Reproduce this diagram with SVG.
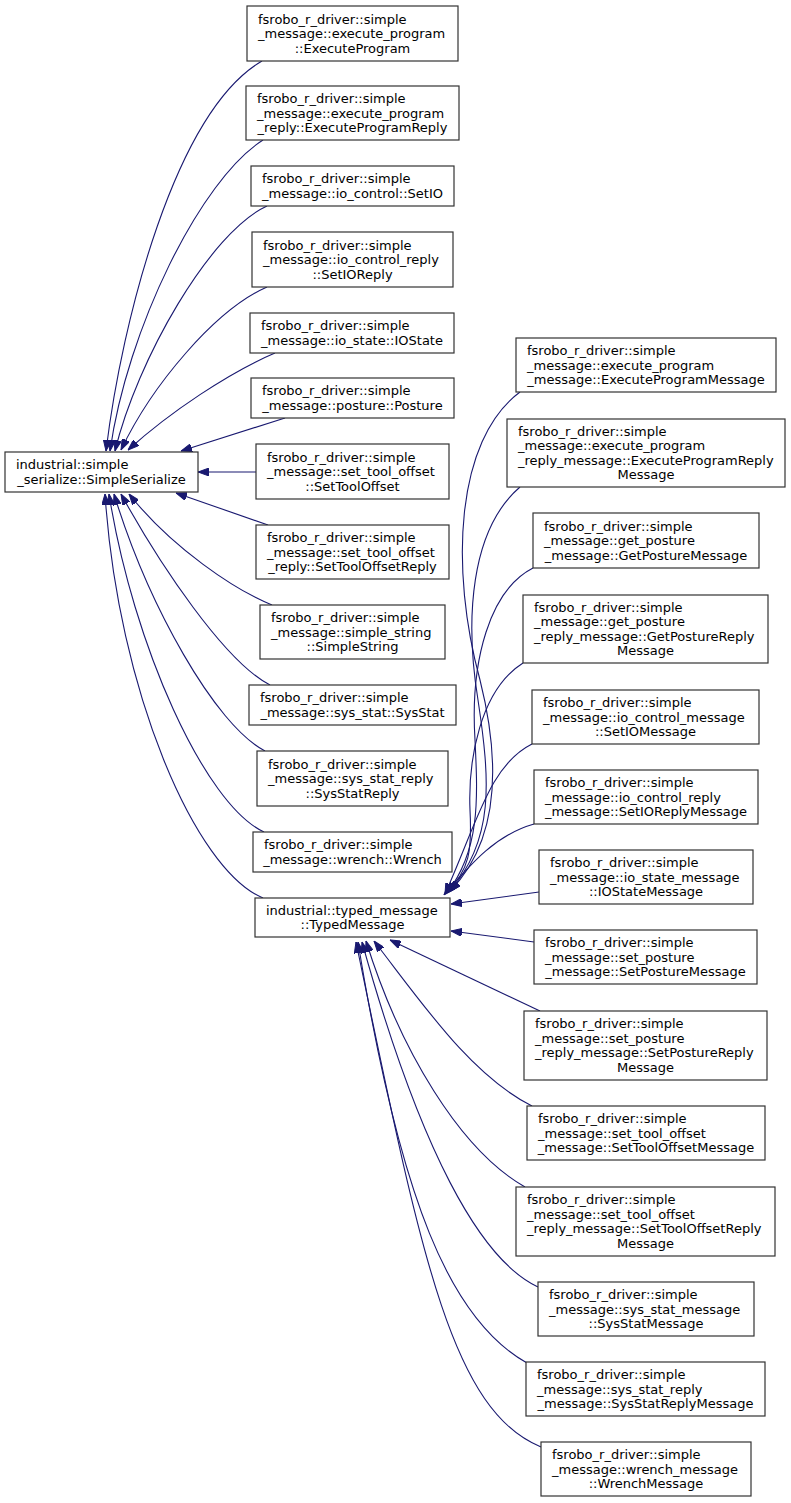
<svg xmlns="http://www.w3.org/2000/svg" width="791" height="1503" viewBox="0 0 791 1503">
<style>
rect.n{fill:#ffffff;stroke:#333333;stroke-width:1.2}
text{font-family:"DejaVu Sans","Liberation Sans",sans-serif;font-size:13px;fill:#000000}
.m{text-anchor:middle}
.e{fill:none;stroke:#191970;stroke-width:1.1}
</style>
<defs>
<marker id="ah" markerWidth="11" markerHeight="8" refX="11" refY="4" orient="auto" markerUnits="userSpaceOnUse"><path d="M0,0 L11,4 L0,8 z" fill="#191970" stroke="#191970" stroke-width="1"/></marker>
</defs>
<rect width="791" height="1503" fill="#ffffff"/>
<g id="edges">
<path class="e" marker-end="url(#ah)" d="M262,61 C175,112 122,320 106,451"/>
<path class="e" marker-end="url(#ah)" d="M263,140 C200,180 127,330 110,451"/>
<path class="e" marker-end="url(#ah)" d="M267,206 C210,232 137,360 115,451"/>
<path class="e" marker-end="url(#ah)" d="M267,287 C215,310 152,385 121,450"/>
<path class="e" marker-end="url(#ah)" d="M275,353 C230,372 170,412 128,450"/>
<path class="e" marker-end="url(#ah)" d="M285,418 L181,451"/>
<path class="e" marker-end="url(#ah)" d="M256,472 L198,472"/>
<path class="e" marker-end="url(#ah)" d="M268,525 L176,493"/>
<path class="e" marker-end="url(#ah)" d="M272,605 C235,590 172,548 129,494"/>
<path class="e" marker-end="url(#ah)" d="M270,685 C225,662 160,565 121,494"/>
<path class="e" marker-end="url(#ah)" d="M265,751 C215,725 148,605 114,494"/>
<path class="e" marker-end="url(#ah)" d="M264,832 C205,805 133,645 109,494"/>
<path class="e" marker-end="url(#ah)" d="M263,898 C195,870 118,690 105,494"/>
<path class="e" marker-end="url(#ah)" d="M520,392 C455,440 450,570 480,680 C500,760 500,840 450,891"/>
<path class="e" marker-end="url(#ah)" d="M520,487 C470,530 465,620 478,700 C490,780 495,840 449,892"/>
<path class="e" marker-end="url(#ah)" d="M533,568 C490,590 470,660 475,740 C478,800 480,850 447,893"/>
<path class="e" marker-end="url(#ah)" d="M523,663 C480,690 468,760 470,810 C472,850 470,870 446,893"/>
<path class="e" marker-end="url(#ah)" d="M532,744 C490,765 478,820 445,894"/>
<path class="e" marker-end="url(#ah)" d="M534,824 C495,835 470,865 444,895"/>
<path class="e" marker-end="url(#ah)" d="M539,892 L451,904"/>
<path class="e" marker-end="url(#ah)" d="M534,942 L451,931"/>
<path class="e" marker-end="url(#ah)" d="M540,1011 L390,940"/>
<path class="e" marker-end="url(#ah)" d="M532,1106 C470,1075 420,1000 374,941"/>
<path class="e" marker-end="url(#ah)" d="M525,1187 C460,1150 400,1050 366,941"/>
<path class="e" marker-end="url(#ah)" d="M538,1287 C480,1260 420,1150 362,942"/>
<path class="e" marker-end="url(#ah)" d="M527,1363 C450,1320 400,1200 358,942"/>
<path class="e" marker-end="url(#ah)" d="M541,1447 C450,1410 420,1250 356,942"/>
</g>
<g id="node_ExecuteProgram"><rect class="n" x="247" y="6" width="211" height="55"/><text><tspan x="258" y="23.5">fsrobo_r_driver::simple</tspan><tspan x="258" y="38">_message::execute_program</tspan><tspan class="m" x="352.5" y="52.5">::ExecuteProgram</tspan></text></g>
<g id="node_ExecuteProgramReply"><rect class="n" x="246" y="86" width="213" height="54"/><text><tspan x="257" y="103">fsrobo_r_driver::simple</tspan><tspan x="257" y="117.5">_message::execute_program</tspan><tspan class="m" x="352.5" y="132">_reply::ExecuteProgramReply</tspan></text></g>
<g id="node_SetIO"><rect class="n" x="251" y="166" width="203" height="40"/><text><tspan x="262" y="183.25">fsrobo_r_driver::simple</tspan><tspan class="m" x="352.5" y="197.75">_message::io_control::SetIO</tspan></text></g>
<g id="node_SetIOReply"><rect class="n" x="252" y="232" width="201" height="55"/><text><tspan x="263" y="249.5">fsrobo_r_driver::simple</tspan><tspan x="263" y="264">_message::io_control_reply</tspan><tspan class="m" x="352.5" y="278.5">::SetIOReply</tspan></text></g>
<g id="node_IOState"><rect class="n" x="250" y="313" width="204" height="40"/><text><tspan x="261" y="330.25">fsrobo_r_driver::simple</tspan><tspan class="m" x="352" y="344.75">_message::io_state::IOState</tspan></text></g>
<g id="node_Posture"><rect class="n" x="251" y="378" width="203" height="40"/><text><tspan x="262" y="395.25">fsrobo_r_driver::simple</tspan><tspan class="m" x="352.5" y="409.75">_message::posture::Posture</tspan></text></g>
<g id="node_SetToolOffset"><rect class="n" x="256" y="444" width="193" height="55"/><text><tspan x="267" y="461.5">fsrobo_r_driver::simple</tspan><tspan x="267" y="476">_message::set_tool_offset</tspan><tspan class="m" x="352.5" y="490.5">::SetToolOffset</tspan></text></g>
<g id="node_SimpleSerialize"><rect class="n" x="5" y="452" width="193" height="40"/><text><tspan x="16" y="469.25">industrial::simple</tspan><tspan class="m" x="101.5" y="483.75">_serialize::SimpleSerialize</tspan></text></g>
<g id="node_SetToolOffsetReply"><rect class="n" x="256" y="525" width="193" height="54"/><text><tspan x="267" y="542">fsrobo_r_driver::simple</tspan><tspan x="267" y="556.5">_message::set_tool_offset</tspan><tspan class="m" x="352.5" y="571">_reply::SetToolOffsetReply</tspan></text></g>
<g id="node_SimpleString"><rect class="n" x="260" y="605" width="185" height="54"/><text><tspan x="271" y="622">fsrobo_r_driver::simple</tspan><tspan x="271" y="636.5">_message::simple_string</tspan><tspan class="m" x="352.5" y="651">::SimpleString</tspan></text></g>
<g id="node_SysStat"><rect class="n" x="249" y="685" width="207" height="40"/><text><tspan x="260" y="702.25">fsrobo_r_driver::simple</tspan><tspan class="m" x="352.5" y="716.75">_message::sys_stat::SysStat</tspan></text></g>
<g id="node_SysStatReply"><rect class="n" x="257" y="751" width="191" height="55"/><text><tspan x="268" y="768.5">fsrobo_r_driver::simple</tspan><tspan x="268" y="783">_message::sys_stat_reply</tspan><tspan class="m" x="352.5" y="797.5">::SysStatReply</tspan></text></g>
<g id="node_Wrench"><rect class="n" x="253" y="832" width="199" height="40"/><text><tspan x="264" y="849.25">fsrobo_r_driver::simple</tspan><tspan class="m" x="352.5" y="863.75">_message::wrench::Wrench</tspan></text></g>
<g id="node_TypedMessage"><rect class="n" x="255" y="898" width="195" height="39"/><text><tspan x="266" y="914.75">industrial::typed_message</tspan><tspan class="m" x="352.5" y="929.25">::TypedMessage</tspan></text></g>
<g id="node_ExecuteProgramMessage"><rect class="n" x="516" y="338" width="260" height="54"/><text><tspan x="527" y="355">fsrobo_r_driver::simple</tspan><tspan x="527" y="369.5">_message::execute_program</tspan><tspan class="m" x="646" y="384">_message::ExecuteProgramMessage</tspan></text></g>
<g id="node_ExecuteProgramReplyMessage"><rect class="n" x="507" y="419" width="278" height="68"/><text><tspan x="518" y="435.75">fsrobo_r_driver::simple</tspan><tspan x="518" y="450.25">_message::execute_program</tspan><tspan x="518" y="464.75">_reply_message::ExecuteProgramReply</tspan><tspan class="m" x="646" y="479.25">Message</tspan></text></g>
<g id="node_GetPostureMessage"><rect class="n" x="533" y="513" width="226" height="55"/><text><tspan x="544" y="530.5">fsrobo_r_driver::simple</tspan><tspan x="544" y="545">_message::get_posture</tspan><tspan class="m" x="646" y="559.5">_message::GetPostureMessage</tspan></text></g>
<g id="node_GetPostureReplyMessage"><rect class="n" x="523" y="595" width="245" height="68"/><text><tspan x="534" y="611.75">fsrobo_r_driver::simple</tspan><tspan x="534" y="626.25">_message::get_posture</tspan><tspan x="534" y="640.75">_reply_message::GetPostureReply</tspan><tspan class="m" x="645.5" y="655.25">Message</tspan></text></g>
<g id="node_SetIOMessage"><rect class="n" x="532" y="690" width="227" height="54"/><text><tspan x="543" y="707">fsrobo_r_driver::simple</tspan><tspan x="543" y="721.5">_message::io_control_message</tspan><tspan class="m" x="645.5" y="736">::SetIOMessage</tspan></text></g>
<g id="node_SetIOReplyMessage"><rect class="n" x="534" y="770" width="224" height="54"/><text><tspan x="545" y="787">fsrobo_r_driver::simple</tspan><tspan x="545" y="801.5">_message::io_control_reply</tspan><tspan class="m" x="646" y="816">_message::SetIOReplyMessage</tspan></text></g>
<g id="node_IOStateMessage"><rect class="n" x="539" y="850" width="214" height="54"/><text><tspan x="550" y="867">fsrobo_r_driver::simple</tspan><tspan x="550" y="881.5">_message::io_state_message</tspan><tspan class="m" x="646" y="896">::IOStateMessage</tspan></text></g>
<g id="node_SetPostureMessage"><rect class="n" x="534" y="930" width="223" height="54"/><text><tspan x="545" y="947">fsrobo_r_driver::simple</tspan><tspan x="545" y="961.5">_message::set_posture</tspan><tspan class="m" x="645.5" y="976">_message::SetPostureMessage</tspan></text></g>
<g id="node_SetPostureReplyMessage"><rect class="n" x="524" y="1011" width="243" height="69"/><text><tspan x="535" y="1028.25">fsrobo_r_driver::simple</tspan><tspan x="535" y="1042.75">_message::set_posture</tspan><tspan x="535" y="1057.25">_reply_message::SetPostureReply</tspan><tspan class="m" x="645.5" y="1071.75">Message</tspan></text></g>
<g id="node_SetToolOffsetMessage"><rect class="n" x="527" y="1106" width="238" height="54"/><text><tspan x="538" y="1123">fsrobo_r_driver::simple</tspan><tspan x="538" y="1137.5">_message::set_tool_offset</tspan><tspan class="m" x="646" y="1152">_message::SetToolOffsetMessage</tspan></text></g>
<g id="node_SetToolOffsetReplyMessage"><rect class="n" x="516" y="1187" width="259" height="69"/><text><tspan x="527" y="1204.25">fsrobo_r_driver::simple</tspan><tspan x="527" y="1218.75">_message::set_tool_offset</tspan><tspan x="527" y="1233.25">_reply_message::SetToolOffsetReply</tspan><tspan class="m" x="645.5" y="1247.75">Message</tspan></text></g>
<g id="node_SysStatMessage"><rect class="n" x="538" y="1282" width="216" height="54"/><text><tspan x="549" y="1299">fsrobo_r_driver::simple</tspan><tspan x="549" y="1313.5">_message::sys_stat_message</tspan><tspan class="m" x="646" y="1328">::SysStatMessage</tspan></text></g>
<g id="node_SysStatReplyMessage"><rect class="n" x="526" y="1362" width="239" height="54"/><text><tspan x="537" y="1379">fsrobo_r_driver::simple</tspan><tspan x="537" y="1393.5">_message::sys_stat_reply</tspan><tspan class="m" x="645.5" y="1408">_message::SysStatReplyMessage</tspan></text></g>
<g id="node_WrenchMessage"><rect class="n" x="541" y="1442" width="210" height="54"/><text><tspan x="552" y="1459">fsrobo_r_driver::simple</tspan><tspan x="552" y="1473.5">_message::wrench_message</tspan><tspan class="m" x="646" y="1488">::WrenchMessage</tspan></text></g>
</svg>
